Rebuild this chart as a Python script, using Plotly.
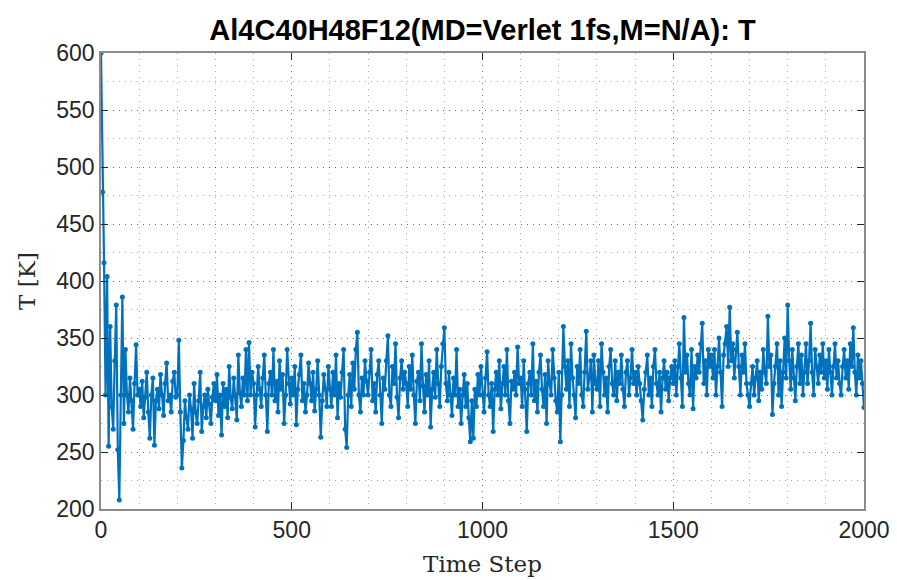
import plotly.graph_objects as go

title_text = "Al4C40H48F12(MD=Verlet 1fs,M=N/A): T"
x_label = "Time Step"
y_label = "T [K]"

x_ticks = [0, 500, 1000, 1500, 2000]
y_ticks = [200, 250, 300, 350, 400, 450, 500, 550, 600]

# time steps (every 4th step)
steps = list(range(0, 2001, 4))

temps = [
    600, 478, 416, 300, 404, 255, 360, 290, 270, 330, 379, 252, 208, 300, 386, 275, 340, 300, 285, 315, 295, 270, 310, 344, 300,
    305, 290, 312, 280, 298, 320, 285, 262, 300, 315, 256, 295, 305, 288, 318, 300, 282, 310, 328, 295, 300, 285, 312, 320, 298,
    300, 348, 285, 236, 260, 295, 280, 270, 300, 288, 262, 310, 285, 275, 295, 320, 268, 290, 300, 280, 305, 292, 275, 298, 310,
    295, 318, 282, 300, 265, 310, 290, 305, 280, 325, 298, 288, 315, 300, 278, 335, 302, 290, 315, 300, 340, 295, 346, 300, 320,
    310, 272, 300, 325, 305, 290, 315, 335, 300, 268, 310, 320, 300, 340, 295, 312, 285, 330, 305, 318, 275, 300, 340, 310, 292,
    315, 300, 325, 274, 305, 318, 335, 295, 310, 285, 300, 328, 310, 295, 320, 286, 305, 330, 300, 263, 295, 318, 305, 290, 325,
    305, 290, 320, 300, 335, 280, 310, 298, 320, 340, 270, 254, 300, 318, 290, 328, 305, 340, 355, 300, 285, 315, 300, 330, 312,
    300, 320, 340, 295, 310, 285, 318, 330, 300, 275, 315, 305, 330, 352, 300, 290, 325, 310, 345, 298, 280, 315, 330, 305, 320,
    310, 290, 325, 305, 335, 300, 275, 312, 320, 295, 345, 308, 285, 318, 300, 330, 272, 305, 320, 298, 340, 310, 290, 325, 345,
    359, 310, 295, 320, 300, 282, 315, 300, 340, 290, 305, 275, 300, 318, 290, 310, 280, 259, 295, 262, 305, 290, 318, 300, 325,
    300, 285, 315, 338, 300, 290, 310, 268, 305, 320, 300, 330, 288, 310, 325, 300, 340, 295, 275, 312, 305, 320, 300, 342, 310,
    315, 290, 330, 305, 268, 310, 320, 300, 345, 295, 312, 285, 320, 335, 305, 290, 318, 275, 330, 310, 300, 340, 315, 295, 285,
    320, 259, 300, 360, 325, 305, 330, 290, 345, 315, 300, 280, 325, 310, 340, 300, 290, 320, 356, 305, 315, 330, 285, 335, 310,
    305, 330, 290, 345, 320, 300, 315, 285, 325, 340, 310, 300, 330, 295, 320, 310, 335, 305, 290, 320, 330, 300, 315, 340, 310,
    320, 300, 325, 310, 295, 278, 305, 320, 335, 300, 315, 290, 325, 340, 310, 300, 320, 285, 315, 330, 305, 320, 295, 315, 325,
    310, 330, 300, 325, 345, 315, 290, 368, 320, 335, 310, 300, 340, 288, 325, 315, 335, 320, 345, 363, 310, 330, 300, 340, 325,
    335, 315, 340, 300, 325, 350, 320, 290, 335, 345, 360, 325, 377, 330, 345, 315, 340, 355, 325, 300, 335, 320, 345, 310, 300,
    290, 310, 325, 300, 315, 330, 295, 320, 305, 340, 320, 310, 369, 325, 335, 283, 310, 325, 345, 300, 330, 290, 320, 350, 315,
    379, 330, 305, 340, 315, 295, 325, 345, 310, 335, 300, 320, 345, 310, 330, 363, 320, 300, 340, 325, 310, 335, 320, 345, 315,
    330, 305, 340, 320, 300, 325, 345, 315, 330, 310, 300, 325, 340, 315, 330, 305, 345, 325, 359, 320, 300, 335, 315, 330, 310,
    289,
]

line_color = "#0072BD"

fig = go.Figure()
fig.add_trace(go.Scatter(
    x=steps, y=temps, mode="lines+markers",
    line=dict(color=line_color, width=2.2),
    marker=dict(color=line_color, size=5),
    showlegend=False, hoverinfo="x+y",
))

grid_col = "rgba(0,0,0,0.35)"
grid_dash = "1px,5px"
axis_common = dict(
    showline=True, linecolor="#8c8c8c", linewidth=1.5, mirror="ticks",
    ticks="inside", ticklen=7, tickcolor="#262626", tickwidth=1,
    showgrid=True, gridcolor=grid_col, griddash=grid_dash, gridwidth=1,
    zeroline=False, automargin=False,
    tickfont=dict(family="Liberation Sans, Arial, sans-serif", size=23, color="#262626"),
)

fig.update_xaxes(
    range=[0, 2000], tickvals=x_ticks, ticktext=[str(v) for v in x_ticks],
    minor=dict(dtick=100, showgrid=True, gridcolor=grid_col, griddash=grid_dash, ticks=""),
    title=dict(text=x_label, font=dict(family="DejaVu Serif, serif", size=23, color="#262626"), standoff=14),
    **axis_common,
)
fig.update_yaxes(
    range=[200, 600], tickvals=y_ticks, ticktext=[str(v) for v in y_ticks],
    minor=dict(dtick=25, showgrid=True, gridcolor=grid_col, griddash=grid_dash, ticks=""),
    title=dict(text=y_label, font=dict(family="DejaVu Serif, serif", size=23, color="#262626"), standoff=14),
    **axis_common,
)

fig.update_layout(
    width=897, height=580,
    margin=dict(l=101, r=33, t=53, b=71),
    paper_bgcolor="white", plot_bgcolor="white",
    title=dict(text="<b>" + title_text + "</b>", x=(101 + 864) / 2 / 897, xanchor="center",
               y=1 - 30 / 580, yanchor="middle",
               font=dict(family="Liberation Sans, Arial, sans-serif", size=29, color="#000000")),
)

fig.write_html("out.html")
